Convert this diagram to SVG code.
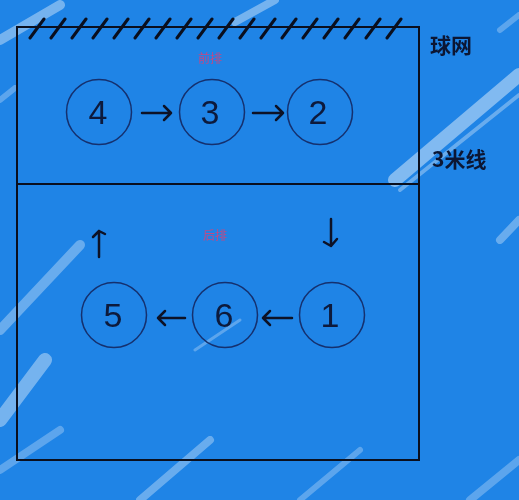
<svg xmlns="http://www.w3.org/2000/svg" width="519" height="500" viewBox="0 0 519 500">
<defs>
<style>
.court{fill:none;stroke:#0a0f1e;stroke-width:2}
.hatch{stroke:#0a0f1e;stroke-width:3;stroke-linecap:round}
.node circle{fill:none;stroke:#15306e;stroke-width:1.5}
.node text{font-family:"Liberation Sans",Arial,sans-serif;font-size:34px;fill:#0d1a3c;text-anchor:middle}
.arr{fill:none;stroke:#0d1226;stroke-width:2.5;stroke-linecap:round;stroke-linejoin:round}
.lbl{font-family:"Noto Sans CJK SC",sans-serif;font-weight:bold;font-size:21px;fill:#0c1633}
.row{font-family:"Noto Sans CJK SC",sans-serif;font-size:12px;fill:#c04a86;text-anchor:middle}
.brush{fill:none;stroke:#ffffff;stroke-linecap:round}
</style>
</defs>
<rect x="0" y="0" width="519" height="500" fill="#1f84e6"/>
<g id="background-brush" opacity="0.55">
<path class="brush" d="M0 40 L60 5" stroke-width="10" opacity="0.7"/>
<path class="brush" d="M235 22 L275 0" stroke-width="8" opacity="0.7"/>
<path class="brush" d="M395 180 L519 75" stroke-width="14" opacity="0.8"/>
<path class="brush" d="M400 190 L519 95" stroke-width="4" opacity="0.6"/>
<path class="brush" d="M0 100 L15 88" stroke-width="6" opacity="0.5"/>
<path class="brush" d="M500 30 L519 15" stroke-width="6" opacity="0.5"/>
<path class="brush" d="M0 330 L80 245" stroke-width="10" opacity="0.6"/>
<path class="brush" d="M0 420 L45 360" stroke-width="14" opacity="0.7"/>
<path class="brush" d="M0 470 L60 430" stroke-width="8" opacity="0.5"/>
<path class="brush" d="M500 240 L519 220" stroke-width="8" opacity="0.6"/>
<path class="brush" d="M140 500 L210 440" stroke-width="8" opacity="0.6"/>
<path class="brush" d="M300 500 L360 450" stroke-width="6" opacity="0.5"/>
<path class="brush" d="M470 500 L519 460" stroke-width="8" opacity="0.5"/>
<path class="brush" d="M195 350 L240 320" stroke-width="3" opacity="0.5"/>
</g>
<g id="court">
<rect class="court" x="17" y="27" width="402" height="433"/>
<line class="court" x1="17" y1="184" x2="419" y2="184"/>
</g>
<g id="net">
<line class="hatch" x1="30" y1="38" x2="44" y2="19"/>
<line class="hatch" x1="51" y1="38" x2="65" y2="19"/>
<line class="hatch" x1="72" y1="38" x2="86" y2="19"/>
<line class="hatch" x1="93" y1="38" x2="107" y2="19"/>
<line class="hatch" x1="114" y1="38" x2="128" y2="19"/>
<line class="hatch" x1="135" y1="38" x2="149" y2="19"/>
<line class="hatch" x1="156" y1="38" x2="170" y2="19"/>
<line class="hatch" x1="177" y1="38" x2="191" y2="19"/>
<line class="hatch" x1="198" y1="38" x2="212" y2="19"/>
<line class="hatch" x1="219" y1="38" x2="233" y2="19"/>
<line class="hatch" x1="240" y1="38" x2="254" y2="19"/>
<line class="hatch" x1="261" y1="38" x2="275" y2="19"/>
<line class="hatch" x1="282" y1="38" x2="296" y2="19"/>
<line class="hatch" x1="303" y1="38" x2="317" y2="19"/>
<line class="hatch" x1="324" y1="38" x2="338" y2="19"/>
<line class="hatch" x1="345" y1="38" x2="359" y2="19"/>
<line class="hatch" x1="366" y1="38" x2="380" y2="19"/>
<line class="hatch" x1="387" y1="38" x2="401" y2="19"/>
</g>
<g id="labels">
<text class="lbl" x="430" y="53">球网</text>
<text class="lbl" x="432" y="167">3米线</text>
<text class="row" x="210" y="63">前排</text>
<text class="row" x="215" y="240">后排</text>
</g>
<g id="connectors">
<path class="arr" d="M142 113 L171 113 M164 106 L171 113 L164 120"/>
<path class="arr" d="M253 113 L283 113 M276 106 L283 113 L276 120"/>
<path class="arr" d="M185 318 L158 318 M165 311 L158 318 L165 325"/>
<path class="arr" d="M292 318 L263 318 M270 311 L263 318 L270 325"/>
<path class="arr" d="M99 257 L99 231 M93 237 L99 231 L105 234"/>
<path class="arr" d="M331 219 L331 246 M324 242 L331 246 L337 239"/>
</g>
<g id="node-4" class="node"><circle cx="99" cy="112" r="32.5"/><text x="98" y="124">4</text></g>
<g id="node-3" class="node"><circle cx="212" cy="112" r="32.5"/><text x="210" y="124">3</text></g>
<g id="node-2" class="node"><circle cx="320" cy="112" r="32.5"/><text x="318" y="124">2</text></g>
<g id="node-5" class="node"><circle cx="114" cy="315" r="32.5"/><text x="113" y="327">5</text></g>
<g id="node-6" class="node"><circle cx="225" cy="315" r="32.5"/><text x="224" y="327">6</text></g>
<g id="node-1" class="node"><circle cx="332" cy="315" r="32.5"/><text x="330" y="327">1</text></g>
</svg>
